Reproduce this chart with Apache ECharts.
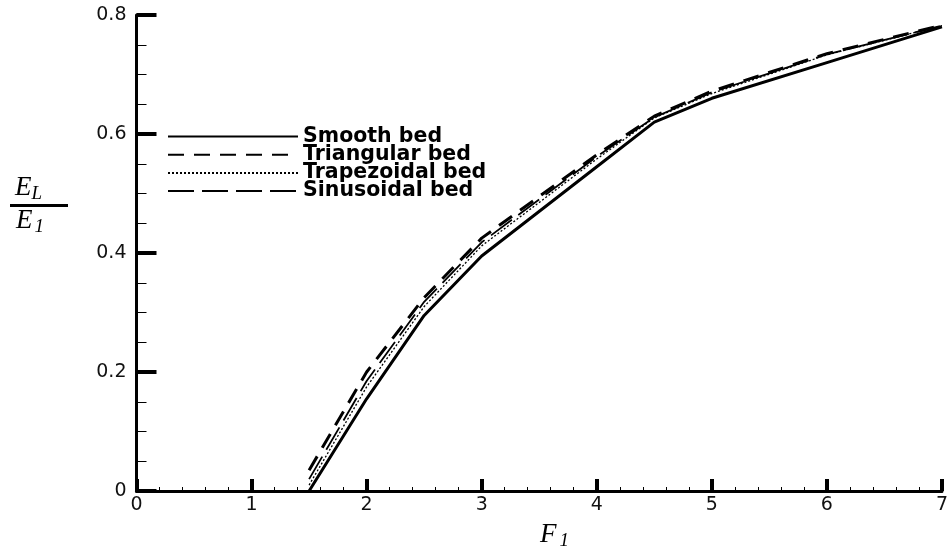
<!DOCTYPE html>
<html>
<head>
<meta charset="utf-8">
<script src="https://cdn.jsdelivr.net/npm/echarts@6/dist/echarts.min.js"></script>
<style>html,body{margin:0;padding:0;background:#fff}#c{width:951px;height:553px}</style>
</head>
<body>
<div id="c"></div>
<script>
const F1 = [1.5, 2, 2.5, 3, 4, 4.5, 5, 6, 7];
const smoothBed = [0, 0.155, 0.295, 0.395, 0.545, 0.62, 0.66, 0.72, 0.78];
const triangularBed = [0.035, 0.2, 0.325, 0.425, 0.565, 0.63, 0.672, 0.735, 0.783];
const trapezoidalBed = [0.01, 0.175, 0.31, 0.412, 0.558, 0.627, 0.668, 0.733, 0.782];
const sinusoidalBed = [0.02, 0.185, 0.318, 0.418, 0.562, 0.628, 0.67, 0.734, 0.782];
const seriesNames = ['Smooth bed', 'Triangular bed', 'Trapezoidal bed', 'Sinusoidal bed'];

const pair = ys => F1.map((x, i) => [x, ys[i]]);
const chart = echarts.init(document.getElementById('c'));
const axisFont = { fontFamily: 'DejaVu Sans', fontSize: 19, color: '#111' };
const styles = [
  { width: 3, type: 'solid' },
  { width: 3, type: [16, 10] },
  { width: 1.3, type: [2, 2] },
  { width: 1.8, type: [26, 8] }
];
const data = [smoothBed, triangularBed, trapezoidalBed, sinusoidalBed];
const serif = { fontFamily: 'Liberation Serif', fontStyle: 'italic', fill: '#000' };
chart.setOption({
  animation: false,
  grid: { left: 136.5, right: 6, top: 15, bottom: 62, containLabel: false },
  legend: {
    left: 162, top: 121, orient: 'vertical', itemWidth: 130, itemHeight: 12, itemGap: -2.8,
    itemStyle: { opacity: 0 },
    textStyle: { fontFamily: 'DejaVu Sans', fontWeight: 'bold', fontSize: 20.5, lineHeight: 18.5, color: '#000' },
    data: seriesNames
  },
  xAxis: {
    type: 'value', min: 0, max: 7, interval: 1,
    axisLine: { lineStyle: { color: '#000', width: 3 } },
    axisTick: { inside: true, length: 12, lineStyle: { width: 4, color: '#000' } },
    minorTick: { show: true, splitNumber: 5, length: 4, lineStyle: { width: 1, color: '#000' } },
    axisLabel: Object.assign({ margin: 5 }, axisFont),
    splitLine: { show: false }
  },
  yAxis: {
    type: 'value', min: 0, max: 0.8, interval: 0.2,
    axisLine: { show: true, lineStyle: { color: '#000', width: 3 } },
    axisTick: { show: true, inside: true, length: 20, lineStyle: { width: 4, color: '#000' } },
    minorTick: { show: true, splitNumber: 4, length: 10, lineStyle: { width: 1, color: '#000' } },
    axisLabel: Object.assign({ margin: 10, formatter: v => v === 0 ? '0' : v.toFixed(1) }, axisFont),
    splitLine: { show: false }
  },
  series: seriesNames.map((n, i) => ({
    name: n, type: 'line', data: pair(data[i]), showSymbol: false, symbol: 'none',
    lineStyle: Object.assign({ color: '#000' }, styles[i]), itemStyle: { color: '#000' }
  })),
  graphic: [
    { type: 'text', left: 15, top: 174, style: { text: '{e|E}{s|L}', rich: { e: Object.assign({ fontSize: 27 }, serif), s: Object.assign({ fontSize: 19, padding: [12,0,0,0] }, serif) } } },
    { type: 'rect', shape: { x: 10, y: 204, width: 58, height: 3 }, style: { fill: '#000' } },
    { type: 'text', left: 16, top: 207, style: { text: '{e|E}{s|1}', rich: { e: Object.assign({ fontSize: 27 }, serif), s: Object.assign({ fontSize: 19, padding: [12,0,0,2] }, serif) } } },
    { type: 'text', left: 540, top: 521, style: { text: '{e|F}{s|1}', rich: { e: Object.assign({ fontSize: 27 }, serif), s: Object.assign({ fontSize: 19, padding: [12,0,0,3] }, serif) } } }
  ]
});
</script>
</body>
</html>
